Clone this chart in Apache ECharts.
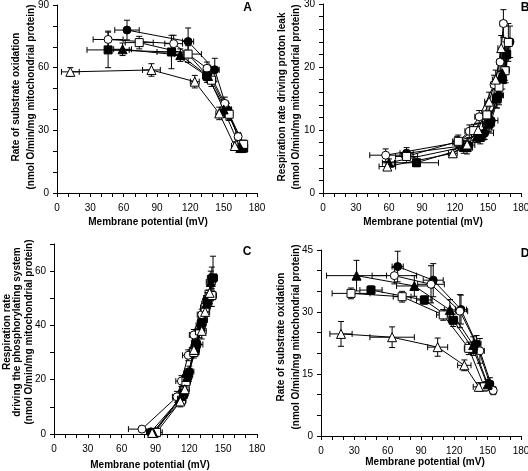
<!DOCTYPE html>
<html><head><meta charset="utf-8">
<script src="https://cdn.jsdelivr.net/npm/echarts@6/dist/echarts.min.js"></script>
<style>html,body{margin:0;padding:0;background:#fff}#c{width:528px;height:471px}</style>
</head><body><div id="c"></div>
<script>
// ---- tick labels ----
const xTickLabels = [0, 30, 60, 90, 120, 150, 180];
const yTickLabelsA = [0, 30, 60, 90];
const yTickLabelsB = [0, 10, 20, 30];
const yTickLabelsC = [0, 20, 40, 60];
const yTickLabelsD = [0, 15, 30, 45];

// ---- data: each point [membrane potential, rate, x error, y error] ----
// Panel A
const aFilledCircle   = [[63,78,11,4.7],[118,72.5,5,6.5],[142,59,4,5.5],[153,40,4,3],[167,22,3,2]];
const aOpenCircle     = [[46,73.5,13.5,4],[105,71.5,8,4],[135,59.7,3,3],[151,42.9,3,3],[163,27,3,2]];
const aFilledSquare   = [[46,68.5,19,8.5],[103,67.5,13,8],[135,56,4,3],[154,38,3,3],[168,21.5,3,2]];
const aOpenSquare     = [[74,72,12.6,3],[118,66.5,12,4],[139,54,4,3],[155,37.7,3,3],[168,23.3,3,2]];
const aFilledTriangle = [[59,68.8,8,3],[111,66,8,3],[136,56,3,3],[150,40,3,3],[165,21.5,3,2]];
const aOpenTriangle   = [[12,58,8,2],[85,58.9,8,3],[124,53.3,4,3],[146,38.1,3,3],[160,22.5,3,2]];
// Panel B
const bOpenCircle     = [[57,6,14.5,1],[122,8,4,1],[133,9.8,4,1],[142,12.1,4,1],[155.5,17.2,3,1.5],[161,20.8,3,1.5],[164,26.9,3,2.2]];
const bOpenSquare     = [[76,5.8,10,1],[123,8.2,5,1],[137,9.9,4,1],[149,12.4,4,1.5],[160,16.8,3,1.5],[165.5,19.4,3,1.5],[168.5,23.9,3,3]];
const bFilledSquare   = [[85,4.8,20,0.6],[131,7.2,5,1],[143,8.8,5,1],[151,11,5,1.3],[158,15,4,1.5],[163,18,3,1.5],[167,22,3,2]];
const bFilledCircle   = [[76,6.3,6,0.9],[132,7.6,6,1],[147,9.5,8,1],[153,11.5,6,1.5],[160,15.5,4,1.5],[166,19.5,3,2],[170,24,3,2.5]];
const bFilledTriangle = [[60,4.8,6,0.6],[128,7.3,5,1],[140,9,5,1],[150,11,5,1.3],[158,15,4,1.5],[163,19,3,1.5],[166,22,3,2]];
const bOpenTriangle   = [[58.5,4.2,7.5,0.6],[118,6.3,4,0.6],[131,7.7,5,1],[141,10,5,1],[151,14.5,4,1.5],[157,18,3,1.5],[162,23,3,2]];
// Panel C
const cOpenCircle     = [[78,1.8,12,1],[109,13.7,4,2],[113,19.5,5,2],[119,29,5,2],[124,36.5,4,2],[131,44,4,2],[137,50,4,3]];
const cOpenSquare     = [[91,0.6,5,1],[113,12.5,4,2],[117,19.3,4,2],[124,30,4,2],[129,38,4,2.5],[134,46.5,4,3],[140,51,4,4]];
const cFilledSquare   = [[89,0.3,4,0.5],[115,15,4,2],[119,22,4,2],[126,33,4,2],[131,41,4,3],[136,49,4,3],[141,57.5,4,8]];
const cFilledCircle   = [[86,0.8,4,0.5],[114,14,4,2],[120,23,4,2],[127,33,5,2],[132,42,4,3],[137,50,4,3],[140,57.5,4,4]];
const cFilledTriangle = [[88,0.5,4,0.5],[113,14,4,2],[118,21,4,2],[125,31,4,2],[130,40,4,3],[135,48,4,3],[139,56,4,4]];
const cOpenTriangle   = [[87,0.4,4,0.5],[112,12,4,2],[116,16.5,4,2],[124,31,4,2],[131,38,4,3],[134,45,4,3],[138,52,4,4]];
// Panel D
const dFilledCircle   = [[69,41,5,3.7],[101,37.7,9,4],[126,30.6,5,3.5],[140,22.3,4,2],[152,12.6,3,1.5]];
const dOpenCircle     = [[66,38.8,20,2],[99,36.7,12,4.5],[125,30.2,7,4],[143,20.6,4,3],[155,11,3,1]];
const dFilledTriangle = [[32,38.8,27,3.7],[84,36.3,16,2.5],[116,30.5,5,2.5],[137,22,4,2],[150,12.5,3,1.2]];
const dFilledSquare   = [[45,35.3,10,1],[93,32.9,7,1],[119,28,4,1.5],[137,21,4,1.5],[150,12.2,3,1]];
const dOpenSquare     = [[27,34.5,17,1.3],[73,33.7,8,1.3],[110,29.3,6,1.3],[133,21.2,4,1.5],[147,11.9,4,1]];
const dOpenTriangle   = [[18,24.7,10,3],[64,23.9,20,2.5],[105,21.5,9,2.2],[129,17.1,6,1.3],[142,11.9,5,1]];

// ---- styling ----
const FONT = '"Liberation Sans", Arial, Helvetica, sans-serif';
const markers = {
  filledCircle:   {symbol:'circle',   size:8, fill:'#000'},
  openCircle:     {symbol:'circle',   size:8, fill:'#fff'},
  filledSquare:   {symbol:'rect',     size:8, fill:'#000'},
  openSquare:     {symbol:'rect',     size:8, fill:'#fff'},
  filledTriangle: {symbol:'triangle', size:9, fill:'#000'},
  openTriangle:   {symbol:'triangle', size:9, fill:'#fff'}
};

const panels = [
  {grid:{left:57, top:5, width:200, height:188}, yMax:90, yInt:10, yLabels:yTickLabelsA,
   series:{filledCircle:aFilledCircle, openCircle:aOpenCircle, filledSquare:aFilledSquare, openSquare:aOpenSquare, filledTriangle:aFilledTriangle, openTriangle:aOpenTriangle}},
  {grid:{left:323, top:4, width:198, height:189}, yMax:30, yInt:2, yLabels:yTickLabelsB,
   series:{filledCircle:bFilledCircle, openCircle:bOpenCircle, filledSquare:bFilledSquare, openSquare:bOpenSquare, filledTriangle:bFilledTriangle, openTriangle:bOpenTriangle}},
  {grid:{left:54, top:244, width:203, height:190}, yMax:70, yInt:10, yLabels:yTickLabelsC,
   series:{filledCircle:cFilledCircle, openCircle:cOpenCircle, filledSquare:cFilledSquare, openSquare:cOpenSquare, filledTriangle:cFilledTriangle, openTriangle:cOpenTriangle}},
  {grid:{left:321, top:250, width:200, height:186}, yMax:45, yInt:5, yLabels:yTickLabelsD,
   series:{filledCircle:dFilledCircle, openCircle:dOpenCircle, filledSquare:dFilledSquare, openSquare:dOpenSquare, filledTriangle:dFilledTriangle, openTriangle:dOpenTriangle}}
];

function errRender(params, api) {
  const x = api.value(0), y = api.value(1), xe = api.value(2), ye = api.value(3);
  const cap = 3;
  const st = {stroke:'#000', lineWidth:1};
  const ch = [];
  if (xe > 0) {
    const l = api.coord([x - xe, y]), r = api.coord([x + xe, y]);
    ch.push({type:'line', shape:{x1:l[0], y1:l[1], x2:r[0], y2:r[1]}, style:st});
    ch.push({type:'line', shape:{x1:l[0], y1:l[1]-cap, x2:l[0], y2:l[1]+cap}, style:st});
    ch.push({type:'line', shape:{x1:r[0], y1:r[1]-cap, x2:r[0], y2:r[1]+cap}, style:st});
  }
  if (ye > 0) {
    const t = api.coord([x, y + ye]), b = api.coord([x, Math.max(0, y - ye)]);
    ch.push({type:'line', shape:{x1:t[0], y1:t[1], x2:b[0], y2:b[1]}, style:st});
    ch.push({type:'line', shape:{x1:t[0]-cap, y1:t[1], x2:t[0]+cap, y2:t[1]}, style:st});
    if (y - ye > 0) ch.push({type:'line', shape:{x1:b[0]-cap, y1:b[1], x2:b[0]+cap, y2:b[1]}, style:st});
  }
  return {type:'group', children:ch};
}

const grids = [], xAxes = [], yAxes = [], series = [];
panels.forEach((p, i) => {
  grids.push(Object.assign({containLabel:false, outerBoundsMode:'none'}, p.grid));
  xAxes.push({
    gridIndex:i, type:'value', min:0, max:180, interval:10,
    axisLine:{show:true, onZero:false, lineStyle:{color:'#000', width:1}},
    axisTick:{show:true, length:4, lineStyle:{color:'#000', width:1}},
    splitLine:{show:false},
    axisLabel:{color:'#000', fontSize:10, fontFamily:FONT, margin:10,
      formatter:v => xTickLabels.includes(v) ? String(v) : ''}
  });
  yAxes.push({
    gridIndex:i, type:'value', min:0, max:p.yMax, interval:p.yInt,
    axisLine:{show:true, onZero:false, lineStyle:{color:'#000', width:1}},
    axisTick:{show:true, length:4, lineStyle:{color:'#000', width:1}},
    splitLine:{show:false},
    axisLabel:{color:'#000', fontSize:10, fontFamily:FONT, margin:8,
      formatter:v => p.yLabels.includes(v) ? String(v) : ''}
  });
  Object.entries(p.series).forEach(([key, pts]) => {
    const m = markers[key];
    series.push({type:'line', xAxisIndex:i, yAxisIndex:i, data:pts.map(d => [d[0], d[1]]),
      symbol:'none', lineStyle:{color:'#000', width:1}, z:2, silent:true, animation:false});
    series.push({type:'custom', xAxisIndex:i, yAxisIndex:i, data:pts, encode:{x:0, y:1},
      renderItem:errRender, z:3, silent:true, animation:false, clip:false});
    series.push({type:'scatter', xAxisIndex:i, yAxisIndex:i, data:pts.map(d => [d[0], d[1]]),
      symbol:m.symbol, symbolSize:m.size,
      itemStyle:{color:m.fill, borderColor:'#000', borderWidth:1, opacity:1},
      z:4, silent:true, animation:false});
  });
});

function txt(x, y, text, size, bold, rot) {
  return {type:'text', x:x, y:y, rotation:rot || 0, silent:true,
    style:{text:text, fill:'#000', font:(bold ? 'bold ' : '') + size + 'px ' + FONT,
      align:'center', verticalAlign:'middle'}};
}
const R = Math.PI / 2;
const graphics = [
  txt(247.5, 8, 'A', 12, true), txt(525, 8, 'B', 12, true),
  txt(247, 252, 'C', 12, true), txt(525, 254, 'D', 12, true),
  txt(148, 222, 'Membrane potential (mV)', 10, true),
  txt(423, 222, 'Membrane potential (mV)', 10, true),
  txt(150, 465, 'Membrane potential (mV)', 10, true),
  txt(425, 462, 'Membrane potential (mV)', 10, true),
  txt(16, 97, 'Rate of substrate oxidation', 10, true, R),
  txt(31, 97, '(nmol O/min/mg mitochondrial protein)', 10, true, R),
  txt(282.5, 97, 'Respiration rate driving proton leak', 10, true, R),
  txt(296.5, 97, '(nmol O/min/mg mitochondrial protein)', 10, true, R),
  txt(7, 332, 'Respiration rate', 10, true, R),
  txt(17.5, 332, 'driving the phosphorylating system', 10, true, R),
  txt(29.5, 332, '(nmol O/min/mg mitochondrial protein)', 10, true, R),
  txt(281.5, 337, 'Rate of substrate oxidation', 10, true, R),
  txt(296.5, 337, '(nmol O/min/mg mitochondrial protein)', 10, true, R)
];

const chart = echarts.init(document.getElementById('c'), null, {renderer:'canvas'});
chart.setOption({
  animation:false, backgroundColor:'#fff',
  grid:grids, xAxis:xAxes, yAxis:yAxes, series:series, graphic:graphics
});
</script>
</body></html>
